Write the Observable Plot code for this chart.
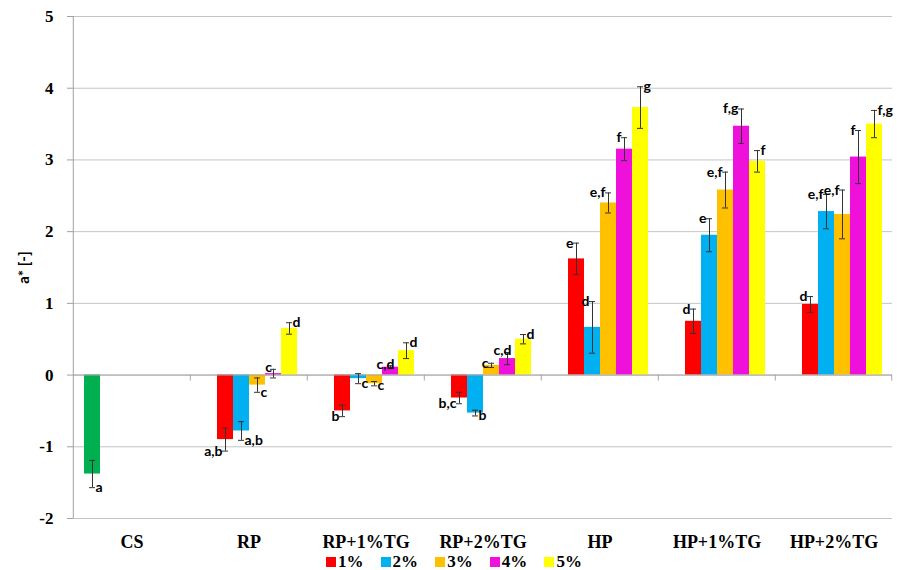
<!DOCTYPE html>
<html>
<head>
<meta charset="utf-8">
<script src="https://cdn.jsdelivr.net/npm/d3@7"></script>
<script src="https://cdn.jsdelivr.net/npm/@observablehq/plot@0.6"></script>
<style>
  html, body { margin: 0; padding: 0; background: #fff; }
  #chart { width: 897px; }
  svg g[aria-label="y-axis label"] { font-family: Lato, "Liberation Sans", sans-serif; font-size: 15px; font-weight: bold; }
  #legend { position: relative; height: 17px; width: 897px; font-family: "Liberation Serif", serif; font-weight: bold; font-size: 17px; color: #000; }
  #legend .item { position: absolute; top: 1px; height: 16px; line-height: 16px; white-space: nowrap; }
  #legend .sw { display: inline-block; width: 10px; height: 10px; margin-right: 2px; vertical-align: 0px; }
</style>
</head>
<body>
<div id="chart"></div>
<div id="legend"></div>
<script>
// ---- data ----
const categories = ["CS", "RP", "RP+1%TG", "RP+2%TG", "HP", "HP+1%TG", "HP+2%TG"];
const treatments = ["RP", "RP+1%TG", "RP+2%TG", "HP", "HP+1%TG", "HP+2%TG"];
const series = ["CS", "1%", "2%", "3%", "4%", "5%"];
const legendSeries = ["1%", "2%", "3%", "4%", "5%"];
const colors = ["#00b050", "#ff0000", "#00b0f0", "#ffc000", "#f010dc", "#ffff00"];
const yTicks = [-2, -1, 0, 1, 2, 3, 4, 5];

// control sample
const csMean = [-1.38];
const csSd = [0.19];
const csLetters = ["a"];

// means per concentration, across treatments
const mean1 = [-0.90, -0.50, -0.32, 1.62, 0.75, 0.985];
const mean2 = [-0.78, -0.05, -0.53, 0.665, 1.95, 2.28];
const mean3 = [-0.14, -0.12, 0.135, 2.40, 2.58, 2.24];
const mean4 = [0.02, 0.11, 0.23, 3.15, 3.47, 3.04];
const mean5 = [0.65, 0.34, 0.50, 3.73, 2.98, 3.50];

// standard deviations
const sd1 = [0.16, 0.08, 0.08, 0.22, 0.17, 0.11];
const sd2 = [0.13, 0.07, 0.04, 0.36, 0.23, 0.24];
const sd3 = [0.10, 0.03, 0.03, 0.14, 0.25, 0.34];
const sd4 = [0.06, 0.02, 0.085, 0.16, 0.24, 0.37];
const sd5 = [0.08, 0.11, 0.065, 0.29, 0.15, 0.19];

// significance letters
const let1 = ["a,b", "b", "b,c", "e", "d", "d"];
const let2 = ["a,b", "c", "b", "d", "e", "e,f"];
const let3 = ["c", "c", "c", "e,f", "e,f", "e,f"];
const let4 = ["c", "c,d", "c,d", "f", "f,g", "f"];
const let5 = ["d", "d", "d", "g", "f", "f,g"];

// ---- table ----
const means = [mean1, mean2, mean3, mean4, mean5];
const sds = [sd1, sd2, sd3, sd4, sd5];
const lets = [let1, let2, let3, let4, let5];
const rows = [{cat: "CS", series: "CS", value: csMean[0], sd: csSd[0], letter: csLetters[0]}];
treatments.forEach((t, i) => {
  legendSeries.forEach((s, j) => {
    rows.push({cat: t, series: s, value: means[j][i], sd: sds[j][i], letter: lets[j][i]});
  });
});
rows.forEach(d => {
  d.lo = d.value - d.sd;
  d.hi = d.value + d.sd;
  d.end = d.value >= 0 ? d.hi : d.lo;
  d.right = d.series === "5%" || d.series === "CS" || (d.value < 0 && d.series !== "1%");
  d.above = !d.right && d.series === "4%" && d.value >= 0 && d.value < 0.3;
});

// ---- layout ----
const W = 897, H = 553;
const mL = 71, mR = 4, mT = 16, mB = 35;
const step = (W - mL - mR) / categories.length;

const serif = "'Liberation Serif', 'Times New Roman', serif";
const sans = "Lato, 'Liberation Sans', sans-serif";
const letterStyle = {fontFamily: sans, fontWeight: "bold", fontSize: 14, fill: "#000"};

const chart = Plot.plot({
  width: W,
  height: H,
  marginLeft: mL,
  marginRight: mR,
  marginTop: mT,
  marginBottom: mB,
  style: {background: "#fff", color: "#000", overflow: "visible"},
  fx: {domain: categories, padding: 0, label: null},
  x: {domain: series, paddingInner: 0, paddingOuter: 0.62, axis: null},
  y: {domain: [-2, 5], label: "a* [-]"},
  color: {domain: series, range: colors},
  marks: [
    Plot.gridY(yTicks, {stroke: "#c4c4c4", strokeOpacity: 1, strokeWidth: 1}),
    Plot.barY(rows, {fx: "cat", x: "series", y: "value", fill: "series"}),
    Plot.ruleY([0], {stroke: "#a6a6a6", strokeWidth: 1}),
    // category separators on the zero line
    Plot.ruleX(categories.slice(1), {fx: d => d, x: null, y1: 0, y2: 0, insetBottom: -6, dx: -step / 2, stroke: "#a6a6a6"}),
    Plot.ruleX(categories.slice(-1), {fx: d => d, x: null, y1: 0, y2: 0, insetBottom: -6, dx: step / 2 - 1, stroke: "#a6a6a6"}),
    // value axis line
    Plot.ruleX(categories.slice(0, 1), {fx: d => d, x: null, dx: -step / 2, stroke: "#a0a0a0"}),
    // error bars
    Plot.ruleX(rows, {fx: "cat", x: "series", y1: "lo", y2: "hi", stroke: "#333", strokeWidth: 1}),
    Plot.tickY(rows, {fx: "cat", x: "series", y: "lo", insetLeft: 5, insetRight: 5, stroke: "#333", strokeWidth: 1}),
    Plot.tickY(rows, {fx: "cat", x: "series", y: "hi", insetLeft: 5, insetRight: 5, stroke: "#333", strokeWidth: 1}),
    // letters
    Plot.text(rows.filter(d => !d.right && !d.above), {
      fx: "cat", x: "series", y: "end", text: "letter",
      textAnchor: "end", lineAnchor: "middle", dx: -3, dy: 0, ...letterStyle
    }),
    Plot.text(rows.filter(d => d.above), {
      fx: "cat", x: "series", y: "end", text: "letter",
      textAnchor: "middle", lineAnchor: "bottom", dx: -5, dy: 3, ...letterStyle
    }),
    Plot.text(rows.filter(d => d.right), {
      fx: "cat", x: "series", y: "end", text: "letter",
      textAnchor: "start", lineAnchor: "middle", dx: 3, dy: 0, ...letterStyle
    }),
    Plot.axisY(yTicks, {
      anchor: "left", tickSize: 6, tickPadding: 14, stroke: "#a0a0a0",
      tickFormat: d => String(d),
      fontFamily: serif, fontWeight: "bold", fontSize: 17, fill: "#000",
      label: "a* [-]", labelAnchor: "center", labelOffset: 55, labelArrow: "none"
    }),
    Plot.axisFx({
      anchor: "bottom", tickSize: 0, tickPadding: 17, label: null,
      fontFamily: serif, fontWeight: "bold", fontSize: 18, fill: "#000"
    })
  ]
});
document.getElementById("chart").appendChild(chart);

// ---- legend ----
const legendX0 = 326, legendStep = 54.6;
const legend = d3.select("#legend");
legendSeries.forEach((s, i) => {
  const item = legend.append("div").attr("class", "item").style("left", (legendX0 + i * legendStep) + "px");
  item.append("span").attr("class", "sw").style("background", colors[i + 1]);
  item.append("span").text(s);
});
</script>
</body>
</html>
